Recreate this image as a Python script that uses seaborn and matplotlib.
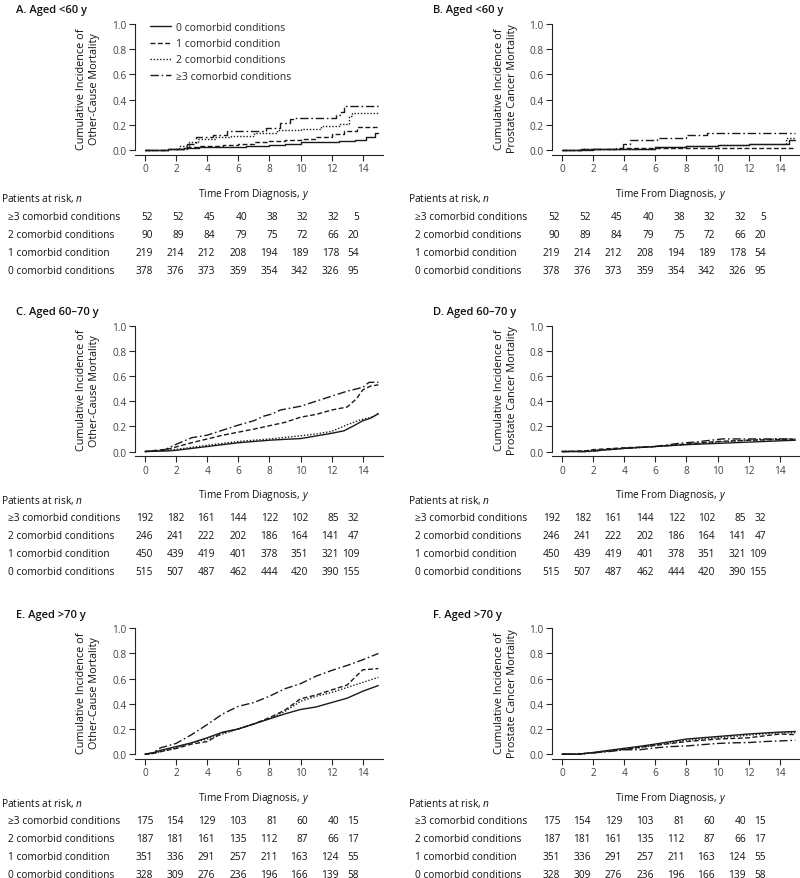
import numpy as np
import pandas as pd
import matplotlib
matplotlib.use("Agg")
import matplotlib.pyplot as plt
import seaborn as sns

# --- data ---
times = [0, 2, 4, 6, 8, 10, 12, 14]
groups = ["0 comorbid conditions", "1 comorbid condition",
          "2 comorbid conditions", "\u22653 comorbid conditions"]
table_rows = ["\u22653 comorbid conditions", "2 comorbid conditions",
              "1 comorbid condition", "0 comorbid conditions"]

risk_lt60 = [[52, 52, 45, 40, 38, 32, 32, 5],
             [90, 89, 84, 79, 75, 72, 66, 20],
             [219, 214, 212, 208, 194, 189, 178, 54],
             [378, 376, 373, 359, 354, 342, 326, 95]]
risk_6070 = [[192, 182, 161, 144, 122, 102, 85, 32],
             [246, 241, 222, 202, 186, 164, 141, 47],
             [450, 439, 419, 401, 378, 351, 321, 109],
             [515, 507, 487, 462, 444, 420, 390, 155]]
risk_gt70 = [[175, 154, 129, 103, 81, 60, 40, 15],
             [187, 181, 161, 135, 112, 87, 66, 17],
             [351, 336, 291, 257, 211, 163, 124, 55],
             [328, 309, 276, 236, 196, 166, 139, 58]]

# A: other-cause, <60
A0_t = [0, 1.5, 2.5, 3.5, 5, 6.5, 8, 9, 10, 11, 12.5, 13.5, 14.2, 14.8, 15]
A0_v = [0, 0.005, 0.012, 0.02, 0.025, 0.03, 0.04, 0.05, 0.06, 0.065, 0.07, 0.08, 0.1, 0.13, 0.13]
A1_t = [0, 1.5, 2.5, 3.5, 5, 6, 7, 8, 9, 10, 11, 12, 12.8, 13.6, 15]
A1_v = [0, 0.01, 0.02, 0.03, 0.04, 0.05, 0.06, 0.07, 0.075, 0.085, 0.10, 0.125, 0.153, 0.178, 0.178]
A2_t = [0, 1.5, 2.2, 2.8, 3.4, 4.5, 5.5, 7, 8.5, 10, 11.3, 12.5, 13.1, 13.3, 15]
A2_v = [0, 0.01, 0.03, 0.06, 0.09, 0.10, 0.11, 0.13, 0.16, 0.167, 0.19, 0.205, 0.27, 0.295, 0.295]
A3_t = [0, 1.5, 2.7, 3.3, 4.4, 5.3, 7.8, 8.7, 9.3, 9.5, 12.3, 12.6, 12.8, 15]
A3_v = [0, 0.01, 0.05, 0.10, 0.115, 0.15, 0.17, 0.21, 0.245, 0.25, 0.28, 0.30, 0.35, 0.35]

# B: prostate cancer, <60
B0_t = [0, 2, 4, 6, 8, 10, 12, 13.2, 14.6, 15]
B0_v = [0, 0.005, 0.01, 0.02, 0.03, 0.04, 0.045, 0.05, 0.08, 0.08]
B1_t = [0, 1.2, 3.5, 15]
B1_v = [0, 0.01, 0.018, 0.018]
B2_t = [0, 1.2, 4, 6, 8, 10, 12, 13.6, 14.4, 15]
B2_v = [0, 0.005, 0.01, 0.02, 0.03, 0.04, 0.045, 0.05, 0.098, 0.098]
B3_t = [0, 1.2, 3.9, 4.4, 6.1, 8.0, 9.3, 15]
B3_v = [0, 0.01, 0.045, 0.077, 0.096, 0.117, 0.137, 0.137]

# C: other-cause, 60-70
C0_t = [0, 1.5, 2, 3, 4, 5, 6, 7, 8, 9, 10, 11, 12, 12.8, 13.5, 14, 14.5, 15]
C0_v = [0, 0.005, 0.01, 0.025, 0.04, 0.055, 0.07, 0.08, 0.09, 0.097, 0.103, 0.124, 0.145, 0.165, 0.21, 0.245, 0.265, 0.30]
C1_t = [0, 1.5, 3, 5, 7, 8, 9, 10, 11, 12, 13, 13.6, 14, 14.5, 15]
C1_v = [0, 0.02, 0.07, 0.13, 0.178, 0.205, 0.232, 0.273, 0.295, 0.33, 0.354, 0.42, 0.49, 0.52, 0.53]
C2_t = [0, 1.5, 2.5, 4, 6, 8, 10, 11, 12, 13, 13.8, 14.5, 15]
C2_v = [0, 0.01, 0.025, 0.05, 0.08, 0.10, 0.125, 0.14, 0.16, 0.213, 0.25, 0.27, 0.30]
C3_t = [0, 1.2, 2, 3, 4, 5, 6, 7, 7.6, 8.2, 8.7, 10, 11, 12, 13, 14, 14.4, 15]
C3_v = [0, 0.01, 0.057, 0.11, 0.13, 0.17, 0.21, 0.245, 0.28, 0.30, 0.33, 0.36, 0.40, 0.44, 0.48, 0.51, 0.55, 0.55]

# D: prostate cancer, 60-70
D0_t = [0, 1.5, 2, 4, 6, 8, 10, 12, 14, 15]
D0_v = [0, 0.0, 0.005, 0.025, 0.04, 0.055, 0.065, 0.075, 0.085, 0.09]
D1_t = [0, 1.5, 2, 4, 6, 8, 10, 12, 14, 15]
D1_v = [0, 0.005, 0.015, 0.03, 0.04, 0.06, 0.08, 0.09, 0.095, 0.095]
D2_t = [0, 1.5, 2, 4, 6, 8, 10, 12, 14, 15]
D2_v = [0, 0.003, 0.01, 0.025, 0.04, 0.055, 0.075, 0.09, 0.10, 0.10]
D3_t = [0, 1.8, 2.5, 4, 6, 7.5, 8.5, 10.3, 12, 15]
D3_v = [0, 0.0, 0.01, 0.025, 0.04, 0.065, 0.075, 0.10, 0.10, 0.10]

# E: other-cause, >70
E_t = [0, 0.5, 1, 2, 3, 4, 5, 6, 7, 8, 9, 10, 11, 12, 13, 14, 15]
E0_v = [0, 0.01, 0.03, 0.06, 0.09, 0.13, 0.175, 0.20, 0.24, 0.28, 0.32, 0.355, 0.375, 0.41, 0.445, 0.50, 0.545]
E1_v = [0, 0.005, 0.02, 0.045, 0.08, 0.10, 0.17, 0.20, 0.24, 0.29, 0.35, 0.44, 0.47, 0.51, 0.55, 0.67, 0.68]
E2_v = [0, 0.005, 0.02, 0.05, 0.09, 0.12, 0.16, 0.20, 0.24, 0.28, 0.34, 0.42, 0.46, 0.49, 0.53, 0.57, 0.61]
E3_v = [0, 0.01, 0.05, 0.085, 0.155, 0.235, 0.32, 0.38, 0.41, 0.46, 0.52, 0.56, 0.62, 0.665, 0.705, 0.75, 0.80]

# F: prostate cancer, >70
F_t = [0, 1, 2, 3, 4, 5, 6, 7, 8, 9, 10, 11, 12, 13, 14, 15]
F0_v = [0, 0.0, 0.013, 0.03, 0.046, 0.062, 0.08, 0.10, 0.12, 0.13, 0.14, 0.15, 0.16, 0.168, 0.175, 0.18]
F1_v = [0, 0.0, 0.01, 0.025, 0.04, 0.055, 0.07, 0.085, 0.10, 0.11, 0.12, 0.125, 0.13, 0.145, 0.16, 0.155]
F2_v = [0, 0.0, 0.01, 0.025, 0.035, 0.05, 0.07, 0.09, 0.11, 0.12, 0.13, 0.14, 0.15, 0.16, 0.17, 0.17]
F3_v = [0, 0.0, 0.01, 0.02, 0.035, 0.035, 0.05, 0.06, 0.065, 0.075, 0.085, 0.09, 0.092, 0.10, 0.105, 0.11]

# --- style ---
sns.set_style("ticks")
plt.rcParams['font.family'] = ['Open Sans', 'DejaVu Sans']
plt.rcParams['mathtext.fontset'] = 'custom'
plt.rcParams['mathtext.rm'] = 'Open Sans'
plt.rcParams['mathtext.it'] = 'Open Sans:italic'

W, H = 800, 879
fig = plt.figure(figsize=(8, 8.79), dpi=100)


def fx(x):
    return x / W


def fy(y):
    return 1 - y / H


line_col = '#1a1a1a'
dash_styles = [(None, '-'), ((3.5, 1.8), '--'), ((1.0, 1.3), ':'), ((6, 2, 1.2, 2), '-.')]
text_col = '#111111'
tick_col = '#444444'
fs_table = 7.3

blocks = [0, 301.7, 604.3]
left_x = [135, 552]
titles = [["A. Aged <60 y", "B. Aged <60 y"],
          ["C. Aged 60\u201370 y", "D. Aged 60\u201370 y"],
          ["E. Aged >70 y", "F. Aged >70 y"]]
ylabels = ["Cumulative Incidence of\nOther-Cause Mortality",
           "Cumulative Incidence of\nProstate Cancer Mortality"]
curves = [[[(A0_t, A0_v), (A1_t, A1_v), (A2_t, A2_v), (A3_t, A3_v)],
           [(B0_t, B0_v), (B1_t, B1_v), (B2_t, B2_v), (B3_t, B3_v)]],
          [[(C0_t, C0_v), (C1_t, C1_v), (C2_t, C2_v), (C3_t, C3_v)],
           [(D0_t, D0_v), (D1_t, D1_v), (D2_t, D2_v), (D3_t, D3_v)]],
          [[(E_t, E0_v), (E_t, E1_v), (E_t, E2_v), (E_t, E3_v)],
           [(F_t, F0_v), (F_t, F1_v), (F_t, F2_v), (F_t, F3_v)]]]
risks = [risk_lt60, risk_6070, risk_gt70]
num_cols = [153, 184, 215, 247, 278, 308, 339, 359]
row_dy = [192, 210, 228, 246]

for bi, off in enumerate(blocks):
    for ci in range(2):
        lx = left_x[ci]
        top = 25 + off
        ax = fig.add_axes([fx(lx), fy(top + 130.5), 248 / W, 130.5 / H])
        for gi, (t, v) in enumerate(curves[bi][ci]):
            dashes, ls = dash_styles[gi]
            df = pd.DataFrame({'t': t, 'v': v})
            kw = dict(drawstyle='steps-post') if bi == 0 else {}
            sns.lineplot(data=df, x='t', y='v', ax=ax, color=line_col, lw=1.0,
                         estimator=None, sort=False, label=groups[gi], **kw)
            ln = ax.lines[-1]
            ln.set_linestyle(ls)
            if dashes is not None:
                ln.set_dashes(dashes)
        ax.set_xlim(-0.64, 15.3)
        ax.set_ylim(-0.037, 1.0)
        ax.set_xticks(times)
        ax.set_yticks(np.arange(0, 1.01, 0.2))
        ax.set_yticklabels([f"{y:.1f}" for y in np.arange(0, 1.01, 0.2)])
        ax.set_xlabel('')
        ax.set_ylabel('')
        ax.tick_params(labelsize=7.3, labelcolor=tick_col, length=4, width=0.8, pad=2)
        sns.despine(ax=ax)
        for s in ['left', 'bottom']:
            ax.spines[s].set_linewidth(0.8)
        ax.spines['left'].set_bounds(0, 1.0)
        if bi == 0 and ci == 0:
            ax.legend(loc='upper left', bbox_to_anchor=(0.06, 1.015), frameon=False,
                      fontsize=7.5, handlelength=2.0, handletextpad=0.5,
                      labelspacing=0.5, borderpad=0, borderaxespad=0)
        else:
            ax.get_legend().remove()

        # panel title and labels
        tx = 16 if ci == 0 else 433
        fig.text(fx(tx), fy(11 + off), titles[bi][ci], fontsize=8,
                 weight='semibold', color=text_col, va='center', ha='left')
        fig.text(fx(lx - 46.5), fy(top + 64), ylabels[ci], rotation=90,
                 fontsize=7.8, color=text_col, ha='center', va='center',
                 linespacing=1.25)
        fig.text(fx(lx + 119), fy(top + 169), 'Time From Diagnosis, $y$',
                 fontsize=fs_table, color=text_col, ha='center', va='center')

        # at-risk table
        toff = 0 if ci == 0 else 407
        fig.text(fx(toff + 1), fy(top + 174), 'Patients at risk, $n$', fontsize=fs_table,
                 color=text_col, ha='left', va='center')
        for ri, name in enumerate(table_rows):
            yy = fy(top + row_dy[ri])
            fig.text(fx(toff + 8), yy, name, fontsize=fs_table, color=text_col,
                     ha='left', va='center', weight='medium')
            for k, n in enumerate(risks[bi][ri]):
                fig.text(fx(toff + num_cols[k]), yy, str(n), fontsize=fs_table,
                         color=text_col, ha='right', va='center', weight='medium')

fig.savefig('out.png', dpi=100, facecolor='white')
